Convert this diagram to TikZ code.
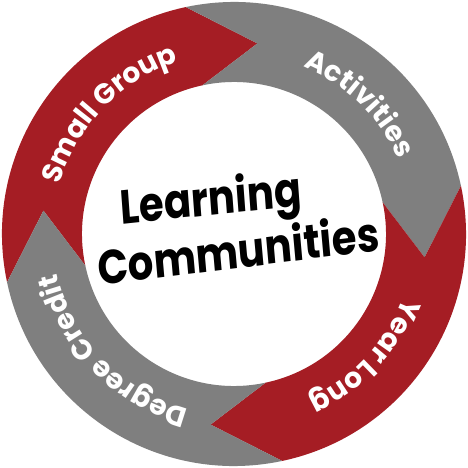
\documentclass[tikz,border=0pt]{standalone}
\usepackage{fontspec}
\newfontfamily\gothfont{Poppins}
\usetikzlibrary{decorations.text}
\definecolor{lcred}{HTML}{A51D24}
\definecolor{lcgray}{HTML}{7F7F7F}
\newcommand\ringfont{\gothfont\bfseries\fontsize{20}{20}\selectfont}
\newcommand\hubfont{\gothfont\bfseries\fontsize{34}{34}\selectfont}
\tikzset{
  ringtext/.style={decorate, decoration={text along path, text align=center,
    text color=white, text={|\ringfont|#1}}},
  hubtext/.style={anchor=base, font=\hubfont, inner sep=0pt, xscale=0.84},
}
\begin{document}
\begin{tikzpicture}[x=0.025cm, y=0.025cm]
\fill[white] (-234,-234) rectangle (234,234);
\useasboundingbox (-234,-234) rectangle (234,234);
% ring of four arrows, going clockwise
\foreach \a/\c in {192/lcred, 102/lcgray, 12/lcred, -78/lcgray}{
  \pgfmathsetmacro\e{\a-90}
  \pgfmathsetmacro\t{\a-109}
  \pgfmathsetmacro\n{\a-19}
  \fill[\c] (\a:232) arc[start angle=\a, end angle=\e, radius=232]
    -- (\t:192) -- (\e:152) arc[start angle=\e, end angle=\a, radius=152]
    -- (\n:192) -- cycle;
}
% labels on the ring
\path[ringtext={Small Group}] (171:181) arc[start angle=171, end angle=101, radius=181];
\path[ringtext={Activities}] (81:181) arc[start angle=81, end angle=11, radius=181];
\path[ringtext={Year Long}] (-8:181) arc[start angle=-8, end angle=-78, radius=181];
\path[ringtext={Degree Credit}] (-101:181) arc[start angle=-101, end angle=-171, radius=181];
% middle
\node (learn)[hubtext, rotate=5] at (-22,19) {Learning};
\node (comm)[hubtext, rotate=6] at (6,-34) {Communities};
\end{tikzpicture}
\end{document}
